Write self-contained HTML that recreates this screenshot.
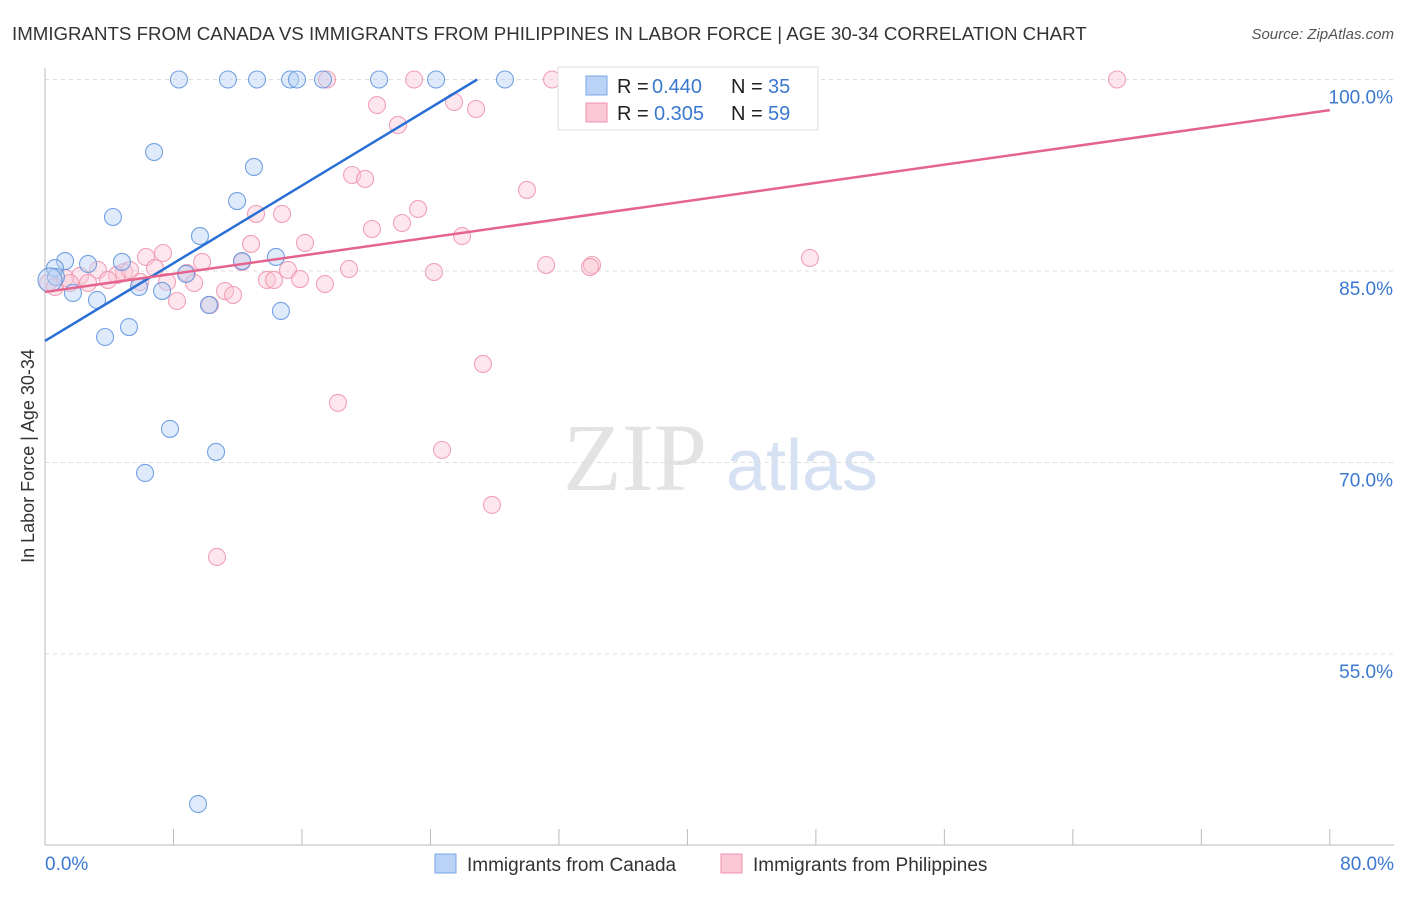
<!DOCTYPE html>
<html><head><meta charset="utf-8"><style>
body{margin:0;background:#fff;font-family:"Liberation Sans",sans-serif;}
svg text{font-family:"Liberation Sans",sans-serif;}
</style></head><body>
<svg id="c" width="1406" height="892">
<text x="12" y="40" font-size="18.7" fill="#333">IMMIGRANTS FROM CANADA VS IMMIGRANTS FROM PHILIPPINES IN LABOR FORCE | AGE 30-34 CORRELATION CHART</text>
<text x="1394" y="39" font-size="15" fill="#555" text-anchor="end" font-style="italic">Source: ZipAtlas.com</text>
<text x="635" y="490" font-size="96" fill="#e3e3e3" text-anchor="middle" style="font-family:'Liberation Serif',serif">ZIP</text>
<text x="802" y="490" font-size="72" fill="#d6e2f3" text-anchor="middle">atlas</text>
<text x="34" y="456" font-size="18" fill="#333" text-anchor="middle" transform="rotate(-90 34 456)">In Labor Force | Age 30-34</text>
<g id="grid"></g><g id="pts"></g><g id="lines"></g>
<g>
<rect x="558" y="67" width="260" height="63" fill="#fff" stroke="#ddd"/>
<rect x="586" y="76" width="21" height="19" fill="#b9d2f5" stroke="#7aa5e6"/>
<rect x="586" y="103" width="21" height="19" fill="#fbc8d6" stroke="#ef92ad"/>
<text x="617" y="93" font-size="20" fill="#222">R =</text>
<text x="652" y="93" font-size="20" fill="#3b78d0">0.440</text>
<text x="731" y="93" font-size="20" fill="#222">N =</text>
<text x="768" y="93" font-size="20" fill="#3b78d0">35</text>
<text x="617" y="120" font-size="20" fill="#222">R =</text>
<text x="654" y="120" font-size="20" fill="#3b78d0">0.305</text>
<text x="731" y="120" font-size="20" fill="#222">N =</text>
<text x="768" y="120" font-size="20" fill="#3b78d0">59</text>
</g>
<g>
<rect x="435" y="854" width="21" height="19" fill="#b9d2f5" stroke="#7aa5e6"/>
<text x="467" y="871" font-size="19" fill="#333">Immigrants from Canada</text>
<rect x="721" y="854" width="21" height="19" fill="#fbc8d6" stroke="#ef92ad"/>
<text x="753" y="871" font-size="19" fill="#333">Immigrants from Philippines</text>
</g>
</svg>
<script>
const blueX=[8.34,11.39,13.20,15.26,15.69,17.31,20.80,24.35,28.64,6.79,13.01,4.23,11.96,9.65,1.25,2.68,4.79,14.38,12.27,8.78,0.62,0.68,1.74,3.24,5.85,7.29,10.21,14.69,5.23,3.74,7.78,10.65,6.23,9.53,0.31];
const blueY=[100,100,100,100,100,100,100,100,100,94.32,93.15,89.23,90.48,87.74,85.78,85.55,85.71,86.1,85.78,84.77,85.23,84.53,83.28,82.73,83.75,83.44,82.34,81.87,80.61,79.83,72.63,70.83,69.18,43.25,84.3];
const pinkX=[17.56,22.98,31.57,66.75,20.67,25.47,26.84,21.98,19.12,19.93,30.01,23.23,13.14,14.76,22.23,20.36,25.97,12.83,16.19,7.35,6.29,47.63,34.06,31.20,33.94,9.78,12.27,6.85,3.30,4.92,18.93,15.13,24.22,8.84,4.48,2.18,5.92,7.60,13.82,14.26,15.88,3.92,1.25,0.19,0.62,9.28,17.43,11.21,11.71,8.22,10.27,27.27,18.24,24.72,27.83,10.71,1.56,5.29,2.68];
const pinkY=[100,100,100,100,98.0,98.24,97.69,96.44,92.52,92.21,91.35,89.86,89.47,89.47,88.76,88.29,87.74,87.12,87.2,86.41,86.1,86.02,85.47,85.47,85.31,85.71,85.71,85.23,85.08,84.92,85.16,85.08,84.92,84.84,84.69,84.61,84.14,84.14,84.3,84.3,84.37,84.3,84.45,84.06,83.75,84.06,83.98,83.43,83.12,82.65,82.34,77.72,74.67,70.99,66.68,62.6,84.06,85.08,84.06];
const yTicks=[100,85,70,55];
const xTickVals=[0,8,16,24,32,40,48,56,64,72,80];
const blueLine=[79.52,0.761];
const pinkLine=[83.36,0.178];
const NS='http://www.w3.org/2000/svg';
const sx=v=>45+v*16.06, sy=v=>79.5+(100-v)*12.767;
function mk(t,a,p){const e=document.createElementNS(NS,t);for(const k in a)e.setAttribute(k,a[k]);document.getElementById(p).appendChild(e);return e;}
yTicks.forEach(t=>{
 const l=mk('line',{x1:45,x2:1394,y1:sy(t),y2:sy(t),stroke:'#ddd','stroke-dasharray':'4 4'},'grid');
 
 
 const tx=mk('text',{x:1393,y:sy(t)+24,'font-size':19,fill:'#3b78d0','text-anchor':'end'},'grid');tx.textContent=t.toFixed(1)+'%';
 
 
});
const ax=mk('line',{x1:45,x2:45,y1:68,y2:845,stroke:'#bbb'},'grid');


const bx=mk('line',{x1:45,x2:1394,y1:845,y2:845,stroke:'#bbb'},'grid');


xTickVals.forEach(t=>{const l=mk('line',{x1:sx(t),x2:sx(t),y1:829,y2:845,stroke:'#bbb'},'grid');
 
 });
[[0,'0.0%','start',45],[80,'80.0%','end',1394]].forEach(d=>{const t=mk('text',{x:d[3],y:870,'font-size':19,fill:'#3b78d0','text-anchor':d[2]},'grid');t.textContent=d[1];
 
 });
function pts(X,Y,fill,stroke,name){X.forEach((x,i)=>{const big=(name==='canada-point'&&i===X.length-1);
 const c=mk('circle',{cx:sx(x),cy:sy(Y[i]),r:big?12:8.5,fill:fill,'fill-opacity':0.45,stroke:stroke,'stroke-width':1.1,'stroke-opacity':0.85},'pts');
 
 });}
pts(pinkX,pinkY,'#fbc8d6','#ef92ad','philippines-point');
pts(blueX,blueY,'#b9d2f5','#5d92dd','canada-point');
const bEnd=(100-blueLine[0])/blueLine[1];
const l1=mk('line',{x1:sx(0),y1:sy(blueLine[0]),x2:sx(bEnd),y2:sy(100),stroke:'#2a6fd6','stroke-width':2.5},'lines');


const l2=mk('line',{x1:sx(0),y1:sy(pinkLine[0]),x2:sx(80),y2:sy(pinkLine[0]+80*pinkLine[1]),stroke:'#e4648e','stroke-width':2.5},'lines');


</script>
</body></html>
